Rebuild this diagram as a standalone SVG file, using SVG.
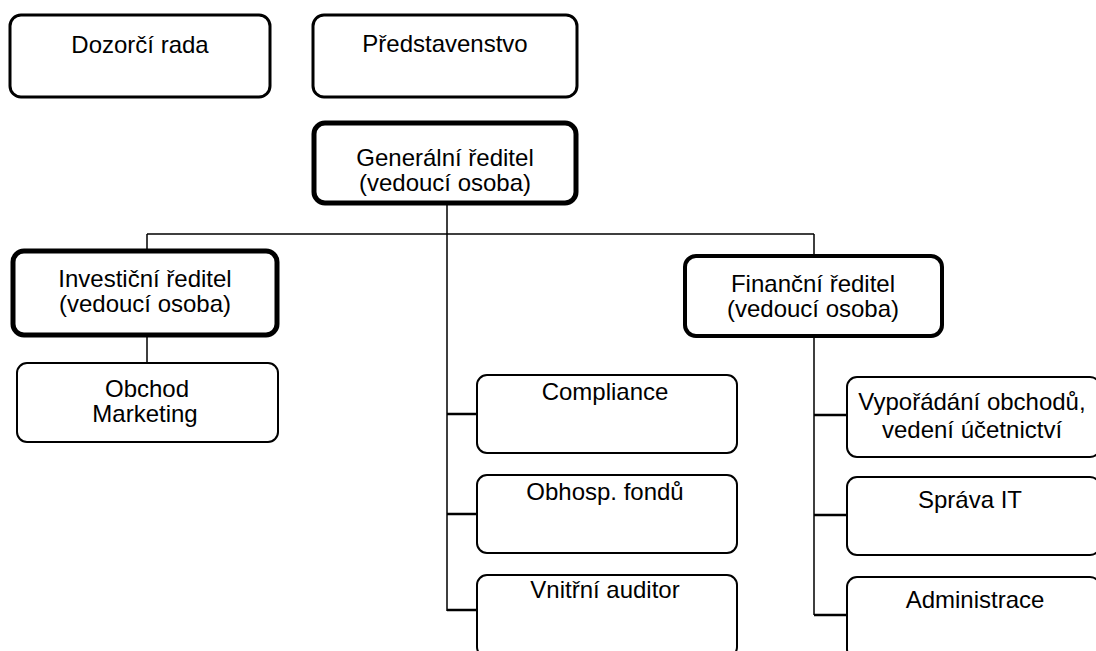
<svg xmlns="http://www.w3.org/2000/svg" width="1096" height="651" viewBox="0 0 1096 651">
<style>
.box{fill:#fff;stroke:#000;stroke-width:2}
.b3{stroke-width:3}
.b4{stroke-width:4}
.b5{stroke-width:5}
text{font-family:"Liberation Sans",Arial,sans-serif;font-size:24px;fill:#000;text-anchor:middle}
.conn{stroke:#000;stroke-width:1.5;fill:none}
.stub{stroke-width:2.5}
</style>
<rect width="1096" height="651" fill="#fff"/>
<g id="connectors">
<path class="conn" d="M447,203 V234 M147,234 H814 M147,234 V250 M147,335 V363 M447,234 V611 M814,234 V255 M814,336 V615"/>
<path class="conn stub" d="M447,414 H477 M447,514 H477 M447,610 H477 M814,415 H847 M814,515 H847 M814,615 H847"/>
</g>
<g id="dozorci-rada">
<rect class="box b3" x="10" y="15" width="260" height="82" rx="11"/>
<text x="140" y="53">Dozorčí rada</text>
</g>
<g id="predstavenstvo">
<rect class="box b3" x="313" y="15" width="264" height="82" rx="11"/>
<text x="445" y="52">Představenstvo</text>
</g>
<g id="generalni-reditel">
<rect class="box b5" x="314" y="123" width="262" height="80" rx="11"/>
<text x="445" y="166">Generální ředitel</text>
<text x="445" y="191">(vedoucí osoba)</text>
</g>
<g id="investicni-reditel">
<rect class="box b5" x="13" y="251" width="264" height="84" rx="11"/>
<text x="145" y="287">Investiční ředitel</text>
<text x="145" y="312">(vedoucí osoba)</text>
</g>
<g id="obchod-marketing">
<rect class="box" x="17" y="363" width="261" height="79" rx="10"/>
<text x="147" y="397">Obchod</text>
<text x="145" y="422">Marketing</text>
</g>
<g id="financni-reditel">
<rect class="box b4" x="685" y="256" width="257" height="80" rx="11"/>
<text x="813" y="292">Finanční ředitel</text>
<text x="813" y="317">(vedoucí osoba)</text>
</g>
<g id="compliance">
<rect class="box" x="477" y="375" width="260" height="78" rx="10"/>
<text x="605" y="400">Compliance</text>
</g>
<g id="obhosp-fondu">
<rect class="box" x="477" y="475" width="260" height="78" rx="10"/>
<text x="605" y="500">Obhosp. fondů</text>
</g>
<g id="vnitrni-auditor">
<rect class="box" x="477" y="575" width="260" height="82" rx="10"/>
<text x="605" y="598">Vnitřní auditor</text>
</g>
<g id="vyporadani">
<rect class="box" x="847" y="377" width="253" height="80" rx="10"/>
<text x="972" y="410">Vypořádání obchodů,</text>
<text x="972" y="438">vedení účetnictví</text>
</g>
<g id="sprava-it">
<rect class="box" x="847" y="477" width="253" height="78" rx="10"/>
<text x="970" y="508">Správa IT</text>
</g>
<g id="administrace">
<rect class="box" x="847" y="577" width="253" height="82" rx="10"/>
<text x="975" y="608">Administrace</text>
</g>
</svg>
